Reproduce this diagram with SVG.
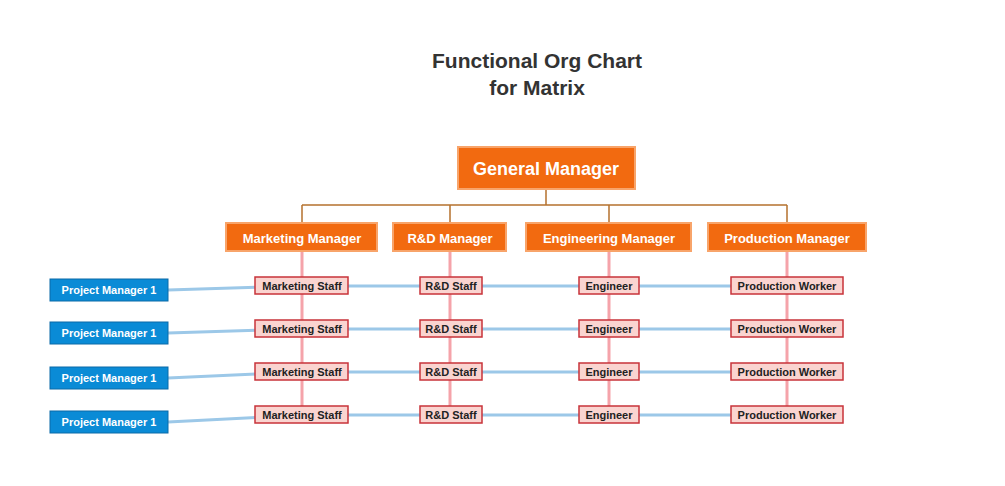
<svg xmlns="http://www.w3.org/2000/svg" width="1005" height="486" viewBox="0 0 1005 486">
<style>
text{font-family:"Liberation Sans",Arial,sans-serif;font-weight:bold;text-anchor:middle;dominant-baseline:central}
.title{font-size:21px;fill:#333}
.org rect{fill:#F26A10;stroke:#F8A46A;stroke-width:2}
.org text{fill:#fff}
.st rect{fill:#FAD4D0;stroke:#C8333A;stroke-width:1.5}
.st text{fill:#222;font-size:11px}
.pm rect{fill:#0A8BD6;stroke:#0A6AA8;stroke-width:1}
.pm text{fill:#fff;font-size:11px}
.tree{fill:none;stroke:#B5722E;stroke-width:1.5}
.pink{stroke:#F5A3AA;stroke-width:3}
.blue{fill:none;stroke:#9CC8E8;stroke-width:3}
</style>
<rect width="1005" height="486" fill="#fff"/>
<text class="title" x="537" y="60">Functional Org Chart</text>
<text class="title" x="537" y="87">for Matrix</text>
<g id="connectors">
<path class="tree" d="M546 189V205M302 205H787M302 205V223M450 205V223M609 205V223M787 205V223"/>
<path class="pink" d="M302 251V415M450 251V415M609 251V415M787 251V415"/>
<polyline class="blue" points="168,290 302,286 450,286 609,286 787,286"/>
<polyline class="blue" points="168,333 302,329 450,329 609,329 787,329"/>
<polyline class="blue" points="168,378 302,372 450,372 609,372 787,372"/>
<polyline class="blue" points="168,422 302,415 450,415 609,415 787,415"/>
</g>
<g id="gm" class="org"><rect x="458" y="147" width="177" height="42"/><text x="546" y="169" font-size="18">General Manager</text></g>
<g id="mm" class="org"><rect x="226" y="223" width="151" height="28"/><text x="302" y="238" font-size="13">Marketing Manager</text></g>
<g id="rm" class="org"><rect x="393" y="223" width="113" height="28"/><text x="450" y="238" font-size="13">R&amp;D Manager</text></g>
<g id="em" class="org"><rect x="526" y="223" width="165" height="28"/><text x="609" y="238" font-size="13">Engineering Manager</text></g>
<g id="pmgr" class="org"><rect x="708" y="223" width="158" height="28"/><text x="787" y="238" font-size="13">Production Manager</text></g>
<g id="pm1" class="pm"><rect x="50" y="279" width="118" height="22"/><text x="109" y="290">Project Manager 1</text></g>
<g id="pm2" class="pm"><rect x="50" y="322" width="118" height="22"/><text x="109" y="333">Project Manager 1</text></g>
<g id="pm3" class="pm"><rect x="50" y="367" width="118" height="22"/><text x="109" y="378">Project Manager 1</text></g>
<g id="pm4" class="pm"><rect x="50" y="411" width="118" height="22"/><text x="109" y="422">Project Manager 1</text></g>
<g id="ms1" class="st"><rect x="255" y="277" width="93" height="17"/><text x="302" y="286">Marketing Staff</text></g>
<g id="ms2" class="st"><rect x="255" y="320" width="93" height="17"/><text x="302" y="329">Marketing Staff</text></g>
<g id="ms3" class="st"><rect x="255" y="363" width="93" height="17"/><text x="302" y="372">Marketing Staff</text></g>
<g id="ms4" class="st"><rect x="255" y="406" width="93" height="17"/><text x="302" y="415">Marketing Staff</text></g>
<g id="rs1" class="st"><rect x="420" y="277" width="62" height="17"/><text x="451" y="286">R&amp;D Staff</text></g>
<g id="rs2" class="st"><rect x="420" y="320" width="62" height="17"/><text x="451" y="329">R&amp;D Staff</text></g>
<g id="rs3" class="st"><rect x="420" y="363" width="62" height="17"/><text x="451" y="372">R&amp;D Staff</text></g>
<g id="rs4" class="st"><rect x="420" y="406" width="62" height="17"/><text x="451" y="415">R&amp;D Staff</text></g>
<g id="e1" class="st"><rect x="579" y="277" width="60" height="17"/><text x="609" y="286">Engineer</text></g>
<g id="e2" class="st"><rect x="579" y="320" width="60" height="17"/><text x="609" y="329">Engineer</text></g>
<g id="e3" class="st"><rect x="579" y="363" width="60" height="17"/><text x="609" y="372">Engineer</text></g>
<g id="e4" class="st"><rect x="579" y="406" width="60" height="17"/><text x="609" y="415">Engineer</text></g>
<g id="pw1" class="st"><rect x="731" y="277" width="112" height="17"/><text x="787" y="286">Production Worker</text></g>
<g id="pw2" class="st"><rect x="731" y="320" width="112" height="17"/><text x="787" y="329">Production Worker</text></g>
<g id="pw3" class="st"><rect x="731" y="363" width="112" height="17"/><text x="787" y="372">Production Worker</text></g>
<g id="pw4" class="st"><rect x="731" y="406" width="112" height="17"/><text x="787" y="415">Production Worker</text></g>
</svg>
